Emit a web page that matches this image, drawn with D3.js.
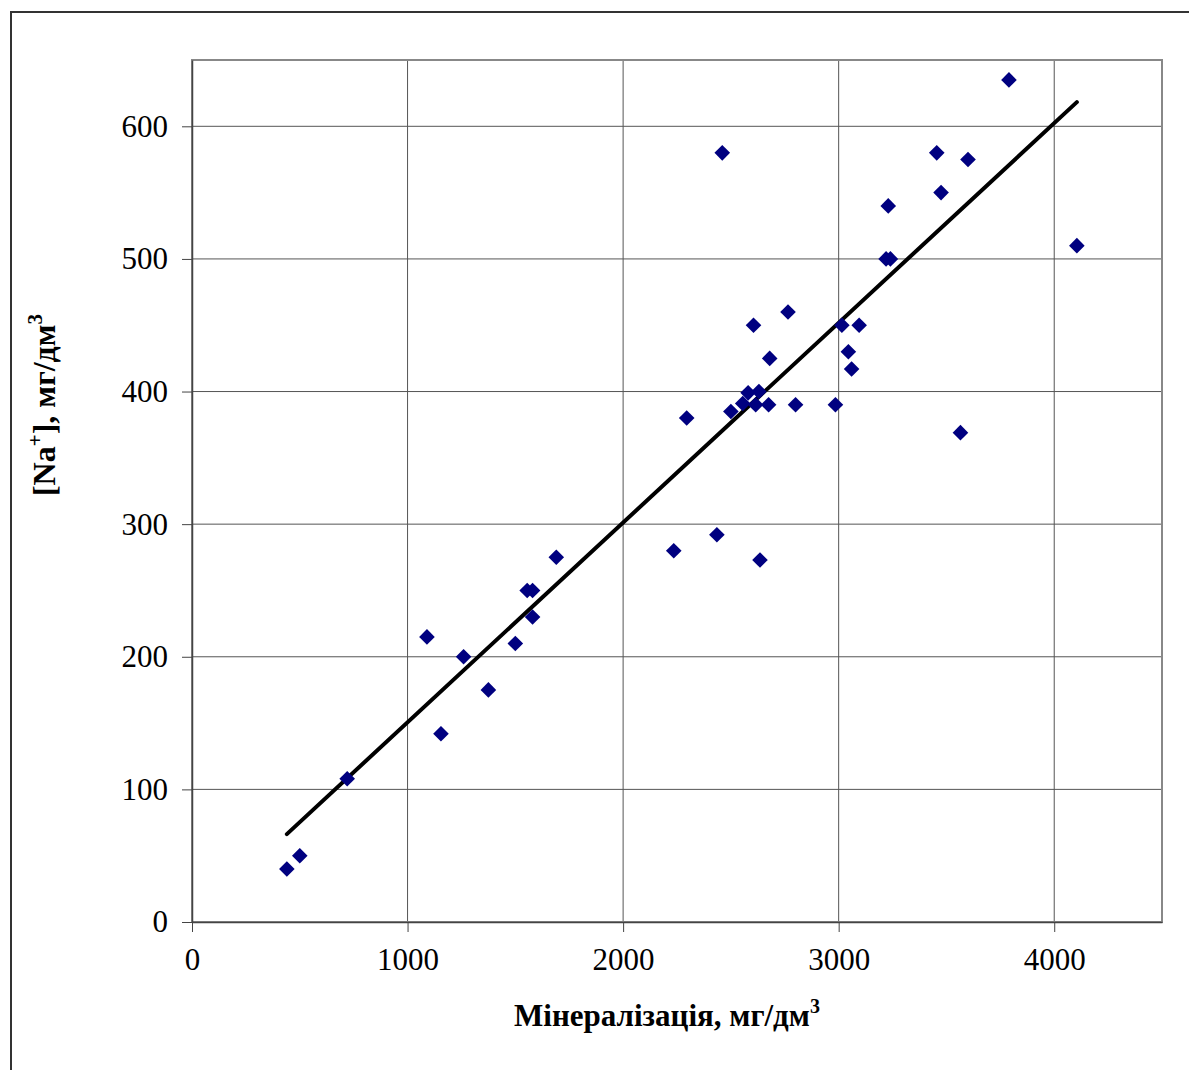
<!DOCTYPE html>
<html>
<head>
<meta charset="utf-8">
<script src="https://cdn.jsdelivr.net/npm/d3@7"></script>
<style>
  body { margin: 0; background: #fff; }
  text { font-family: "Liberation Serif", "Times New Roman", serif; }
</style>
</head>
<body>
<svg width="1189" height="1070"></svg>
<script>
// mineralization, mg/dm3
var mineral = [440, 500, 720, 1090, 1155, 1260, 1375, 1500, 1555, 1580, 1580, 1690,
  2235, 2295, 2435, 2460, 2500, 2555, 2580, 2630, 2615, 2675, 2800, 2680, 2605, 2765,
  2635, 3015, 3095, 3045, 3060, 2985, 3565, 3790, 3455, 3600, 3475, 3230, 3220, 3240, 4105];
// [Na+], mg/dm3
var sodium = [40, 50, 108, 215, 142, 200, 175, 210, 250, 250, 230, 275,
  280, 380, 292, 580, 385, 391, 399, 400, 390, 390, 390, 425, 450, 460,
  273, 450, 450, 430, 417, 390, 369, 635, 580, 575, 550, 540, 500, 500, 510];

// trend line: Na = slope * M + intercept
var trendSlope = 0.1506;
var trendIntercept = 0;

var xTicks = [0, 1000, 2000, 3000, 4000];
var yTicks = [0, 100, 200, 300, 400, 500, 600];

var svg = d3.select("svg"),
    margin = {top: 60, left: 192},
    width = 970,
    height = 862;

// outer frame (runs off the right and bottom edge)
svg.append("rect")
  .attr("x", 11).attr("y", 12)
  .attr("width", 1200).attr("height", 1100)
  .attr("fill", "none")
  .attr("stroke", "#333")
  .attr("stroke-width", 2);

var g = svg.append("g").attr("transform", "translate(" + margin.left + "," + margin.top + ")");

var x = d3.scaleLinear().domain([0, 4500]).range([0, width]);
var y = d3.scaleLinear().domain([0, 650]).range([height, 0]);

// grid
g.append("g").selectAll("line")
  .data(yTicks.slice(1))
  .enter().append("line")
  .attr("x1", 0).attr("x2", width)
  .attr("y1", function(d) { return y(d); })
  .attr("y2", function(d) { return y(d); })
  .attr("stroke", "#555").attr("stroke-width", 1);

g.append("g").selectAll("line")
  .data(xTicks.slice(1))
  .enter().append("line")
  .attr("y1", 0).attr("y2", height)
  .attr("x1", function(d) { return x(d); })
  .attr("x2", function(d) { return x(d); })
  .attr("stroke", "#555").attr("stroke-width", 1);

// plot border
g.append("rect")
  .attr("width", width).attr("height", height)
  .attr("fill", "none")
  .attr("stroke", "#888")
  .attr("stroke-width", 2);

// axes
var xAxis = g.append("g")
  .attr("transform", "translate(0," + height + ")")
  .call(d3.axisBottom(x).tickValues(xTicks).tickSizeInner(10).tickSizeOuter(0).tickPadding(10).tickFormat(d3.format("d")));
var yAxis = g.append("g")
  .call(d3.axisLeft(y).tickValues(yTicks).tickSizeInner(10).tickSizeOuter(0).tickPadding(14).tickFormat(d3.format("d")));

[xAxis, yAxis].forEach(function(a) {
  a.select(".domain").attr("stroke", "#444").attr("stroke-width", 1.5);
  a.selectAll(".tick line").attr("stroke", "#444");
  a.selectAll(".tick text")
    .attr("font-family", "Liberation Serif")
    .attr("font-size", 31)
    .attr("fill", "#000");
});
xAxis.selectAll(".tick text").attr("dy", "0.9em");

// linear trend over the range of the data
var xExt = d3.extent(mineral);
g.append("line")
  .attr("x1", x(xExt[0])).attr("y1", y(trendIntercept + trendSlope * xExt[0]))
  .attr("x2", x(xExt[1])).attr("y2", y(trendIntercept + trendSlope * xExt[1]))
  .attr("stroke", "#000")
  .attr("stroke-width", 4)
  .attr("stroke-linecap", "round");

// points
var r = 7.8;
g.append("g").selectAll("path")
  .data(mineral)
  .enter().append("path")
  .attr("d", function(d, i) {
    var cx = x(d), cy = y(sodium[i]);
    return "M" + cx + "," + (cy - r) + "L" + (cx + r) + "," + cy + "L" + cx + "," + (cy + r) + "L" + (cx - r) + "," + cy + "Z";
  })
  .attr("fill", "#000080");

// axis titles
var xt = svg.append("text")
  .attr("x", margin.left + width / 2 - 10)
  .attr("y", 1026)
  .attr("text-anchor", "middle")
  .attr("font-weight", "bold")
  .attr("font-size", 31);
xt.append("tspan").text("Мінералізація, мг/дм");
xt.append("tspan").attr("dy", -13).attr("font-size", 20).text("3");

var yt = svg.append("text")
  .attr("transform", "translate(55,405) rotate(-90)")
  .attr("text-anchor", "middle")
  .attr("font-weight", "bold")
  .attr("font-size", 32);
yt.append("tspan").text("[Na");
yt.append("tspan").attr("dy", -13).attr("font-size", 21).text("+");
yt.append("tspan").attr("dy", 13).text("], мг/дм");
yt.append("tspan").attr("dy", -13).attr("font-size", 21).text("3");
</script>
</body>
</html>
